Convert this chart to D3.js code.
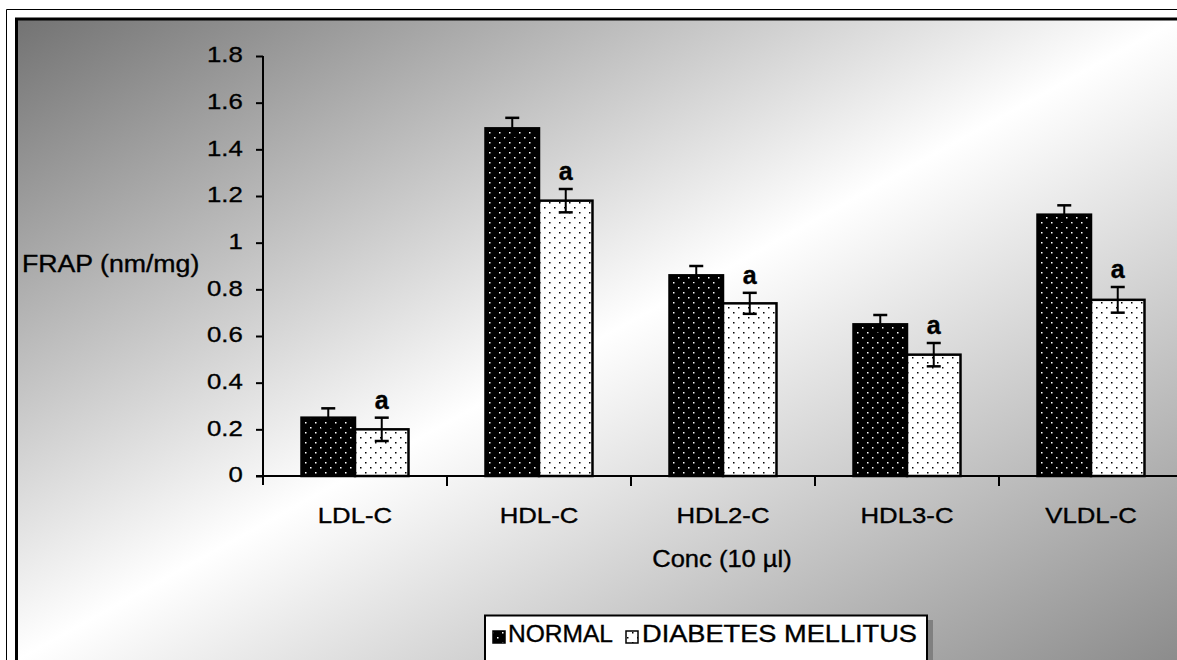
<!DOCTYPE html>
<html><head><meta charset="utf-8">
<script src="https://cdn.jsdelivr.net/npm/d3@7"></script>
<style>
html,body{margin:0;padding:0;background:#fff;overflow:hidden;}
text{font-family:Arial,"Liberation Sans",sans-serif;fill:#000;stroke:#000;stroke-width:0.35px;}
</style></head>
<body>
<svg id="chart" width="1177" height="660"></svg>
<script>
// ---- data ----
const categories = ["LDL-C","HDL-C","HDL2-C","HDL3-C","VLDL-C"];
const seriesNames = ["NORMAL","DIABETES MELLITUS"];
const normalValues = [0.25, 1.49, 0.86, 0.65, 1.12];
const normalErrors = [0.04, 0.045, 0.04, 0.04, 0.04];
const diabetesValues = [0.20, 1.18, 0.74, 0.52, 0.755];
const diabetesErrors = [0.05, 0.05, 0.045, 0.05, 0.055];
const sigLabels = ["a","a","a","a","a"];
const yTickValues = [0,0.2,0.4,0.6,0.8,1,1.2,1.4,1.6,1.8];
const yTickLabels = ["0","0.2","0.4","0.6","0.8","1","1.2","1.4","1.6","1.8"];
const yTitle = "FRAP (nm/mg)";
const xTitle = "Conc (10 µl)";

const W = 1177, H = 660;
const svg = d3.select("#chart");
const defs = svg.append("defs");

// background gradient
const grad = defs.append("linearGradient").attr("id","bg")
  .attr("x1",0).attr("y1",0).attr("x2",1).attr("y2",1);
grad.append("stop").attr("offset",0).attr("stop-color","#737373");
grad.append("stop").attr("offset",0.5).attr("stop-color","#ffffff");
grad.append("stop").attr("offset",1).attr("stop-color","#8c8c8c");

// patterns
const pN = defs.append("pattern").attr("id","patN").attr("patternUnits","userSpaceOnUse")
  .attr("width",10).attr("height",10);
pN.append("rect").attr("width",10).attr("height",10).attr("fill","#000");
pN.append("rect").attr("x",2).attr("y",2).attr("width",1.5).attr("height",1.5).attr("fill","#fff");
pN.append("rect").attr("x",7).attr("y",7).attr("width",1.5).attr("height",1.5).attr("fill","#fff");
const pD = defs.append("pattern").attr("id","patD").attr("patternUnits","userSpaceOnUse")
  .attr("width",10).attr("height",10);
pD.append("rect").attr("width",10).attr("height",10).attr("fill","#fff");
pD.append("rect").attr("x",2).attr("y",2).attr("width",1.5).attr("height",1.5).attr("fill","#000");
pD.append("rect").attr("x",7).attr("y",7).attr("width",1.5).attr("height",1.5).attr("fill","#000");

// frame
svg.append("rect").attr("x",0).attr("y",0).attr("width",W).attr("height",H).attr("fill","#fff");
svg.append("path").attr("d",`M6.5,${H} L6.5,9.5 L${W},9.5`).attr("fill","none").attr("stroke","#000").attr("stroke-width",1);
svg.append("rect").attr("x",17).attr("y",20).attr("width",W-17).attr("height",H-20).attr("fill","url(#bg)");
svg.append("path").attr("d",`M16.5,${H} L16.5,19 L${W},19`).attr("fill","none").attr("stroke","#000").attr("stroke-width",3);

// scales
const x = d3.scaleBand().domain(categories).range([263, 263 + 184*5]).paddingInner(0).paddingOuter(0);
const xs = d3.scaleBand().domain(seriesNames).range([0, x.bandwidth()]).paddingInner(0).paddingOuter(0.72);
const y = d3.scaleLinear().domain([0,1.8]).range([476,56]);

const SX = 1.12;

// y axis
const yAxis = d3.axisLeft(y).tickValues(yTickValues)
  .tickFormat((d,i)=>yTickLabels[i]).tickSize(7).tickPadding(11).tickSizeOuter(0);
const gy = svg.append("g").attr("transform","translate(263,0)").call(yAxis);
gy.select(".domain").remove();
gy.selectAll(".tick line").attr("stroke","#000").attr("stroke-width",2);
gy.selectAll(".tick text").attr("font-size",23).attr("dy","0.26em")
  .attr("transform",`scale(${SX},1)`).attr("font-family","Arial, 'Liberation Sans', sans-serif");
svg.append("line").attr("x1",263).attr("x2",263).attr("y1",y(1.8)).attr("y2",485)
  .attr("stroke","#000").attr("stroke-width",2);

// bars
const groups = svg.append("g").selectAll("g").data(categories).join("g")
  .attr("transform",d=>`translate(${x(d)},0)`);

const rows = categories.map((c,i)=>[
  {s:seriesNames[0], v:normalValues[i], e:normalErrors[i], fill:"url(#patN)", sig:null},
  {s:seriesNames[1], v:diabetesValues[i], e:diabetesErrors[i], fill:"url(#patD)", sig:sigLabels[i]}
]);

groups.each(function(c,i){
  const g = d3.select(this);
  rows[i].forEach(r=>{
    g.append("rect").attr("x",xs(r.s)).attr("y",y(r.v)).attr("width",xs.bandwidth())
      .attr("height",y(0)-y(r.v)).attr("fill",r.fill).attr("stroke","#000").attr("stroke-width",2.5);
  });
  rows[i].forEach(r=>{
    const cx = xs(r.s) + xs.bandwidth()/2;
    const top = y(r.v + r.e), bot = y(r.v - r.e);
    const col = "#000";
    g.append("line").attr("x1",cx).attr("x2",cx).attr("y1",top).attr("y2",bot).attr("stroke",col).attr("stroke-width",2);
    g.append("line").attr("x1",cx-7).attr("x2",cx+7).attr("y1",top).attr("y2",top).attr("stroke",col).attr("stroke-width",2.5);
    g.append("line").attr("x1",cx-7).attr("x2",cx+7).attr("y1",bot).attr("y2",bot).attr("stroke",col).attr("stroke-width",2.5);
    if (r.sig){
      g.append("text").attr("x",cx).attr("y",top-9).attr("text-anchor","middle")
        .attr("font-size",25).attr("font-weight","bold").text(r.sig);
    }
  });
});

// x axis
const xAxis = d3.axisBottom(x).tickSize(0).tickPadding(31);
const gx = svg.append("g").attr("transform","translate(0,476)").call(xAxis);
gx.select(".domain").remove();
gx.selectAll(".tick text").attr("font-size",23).attr("transform",`scale(${SX},1)`)
  .attr("font-family","Arial, 'Liberation Sans', sans-serif");
svg.append("line").attr("x1",256).attr("x2",W).attr("y1",476).attr("y2",476).attr("stroke","#000").attr("stroke-width",2);
categories.slice(1).forEach(c=>{
  svg.append("line").attr("x1",x(c)).attr("x2",x(c)).attr("y1",476).attr("y2",486)
    .attr("stroke","#000").attr("stroke-width",2);
});

// titles
function stretchedText(tx, ty, str, size, anchor, sx){
  svg.append("g").attr("transform",`translate(${tx},${ty}) scale(${sx},1)`)
    .append("text").attr("text-anchor",anchor).attr("font-size",size).text(str);
}
stretchedText(22, 272, yTitle, 23, "start", 1.16);
stretchedText(722, 567, xTitle, 23, "middle", 1.11);

// legend
svg.append("rect").attr("x",489).attr("y",620).attr("width",444).attr("height",60).attr("fill","#808080");
svg.append("rect").attr("x",485).attr("y",615.5).attr("width",442).attr("height",60)
  .attr("fill","#fff").attr("stroke","#000").attr("stroke-width",2);
const legendItems = [
  {name:seriesNames[0], fill:"url(#patN)", sx:493, tx:508, tw:105},
  {name:seriesNames[1], fill:"url(#patD)", sx:626, tx:642, tw:275}
];
legendItems.forEach(l=>{
  svg.append("rect").attr("x",l.sx).attr("y",631).attr("width",12).attr("height",12)
    .attr("fill",l.fill).attr("stroke","#000").attr("stroke-width",1.5);
  svg.append("text").attr("x",l.tx).attr("y",642).attr("font-size",23)
    .attr("textLength",l.tw).attr("lengthAdjust","spacingAndGlyphs").text(l.name);
});
</script>
</body></html>
